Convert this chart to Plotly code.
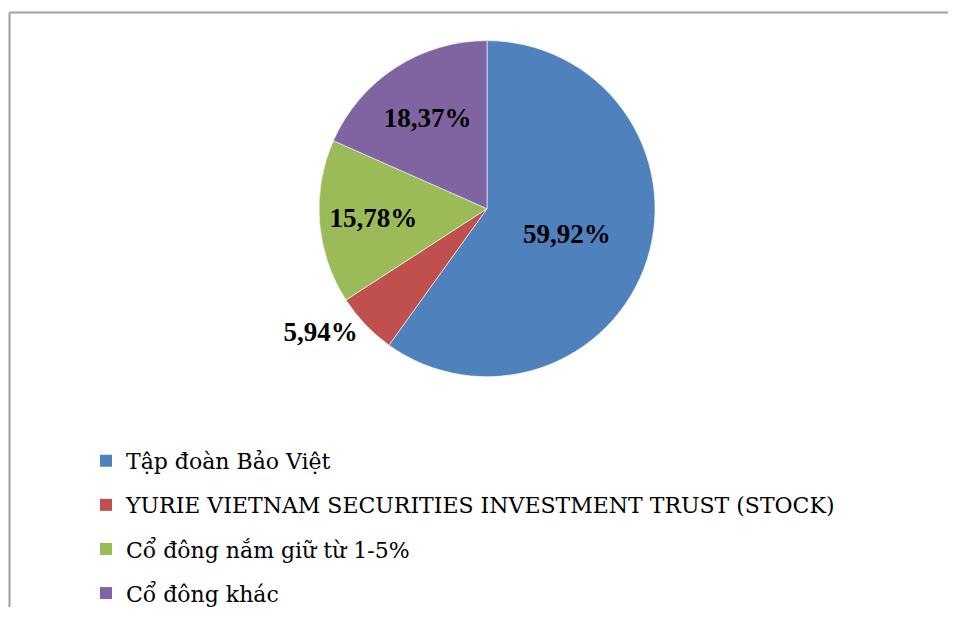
import plotly.graph_objects as go

labels = ["Tập đoàn Bảo Việt",
          "YURIE VIETNAM SECURITIES INVESTMENT TRUST (STOCK)",
          "Cổ đông nắm giữ từ 1-5%",
          "Cổ đông khác"]
values = [59.92, 5.94, 15.78, 18.37]
colors = ["#4F81BD", "#C0504D", "#9BBB59", "#8064A2"]
text_labels = [f"{v:.2f}".replace(".", ",") + "%" for v in values]
text_pos = ["inside", "outside", "inside", "inside"]

# page body adds an 8px offset; figure sized to fit inside the window
OFF = 8
W, H = 940, 606
cx, cy, r = 487 - OFF, 211 - OFF, 170

fig = go.Figure()
fig.add_trace(go.Pie(
    labels=labels, values=values, text=text_labels, textinfo="text",
    textposition=text_pos, sort=False, direction="clockwise", rotation=0,
    marker=dict(colors=colors, line=dict(color="rgba(255,255,255,0.6)", width=1)),
    textfont=dict(family="Liberation Serif", size=27, color="black", weight="bold"),
    insidetextorientation="horizontal",
    domain=dict(x=[(cx - r) / W, (cx + r) / W], y=[1 - (cy + r) / H, 1 - (cy - r) / H]),
    showlegend=False, hoverinfo="label+text",
))
for lab, col in zip(labels, colors):
    fig.add_trace(go.Scatter(x=[None], y=[None], mode="markers", name=lab,
                             legendgroup=lab,
                             marker=dict(symbol="square", size=12, color=col)))

lx, ly = 9.5 - OFF, 12.5 - OFF
fig.update_layout(
    width=W, height=H, margin=dict(l=0, r=0, t=0, b=0),
    paper_bgcolor="white", plot_bgcolor="white",
    xaxis=dict(visible=False), yaxis=dict(visible=False),
    legend=dict(x=(86 - OFF) / W, y=1 - (445 - OFF) / H, xanchor="left", yanchor="top",
                tracegroupgap=12.5, bgcolor="rgba(0,0,0,0)",
                font=dict(family="DejaVu Serif", size=22, color="black")),
    shapes=[
        dict(type="line", xref="paper", yref="paper",
             x0=lx / W, x1=lx / W, y0=0, y1=1 - ly / H,
             line=dict(color="#A0A0A0", width=2)),
        dict(type="line", xref="paper", yref="paper",
             x0=lx / W, x1=1, y0=1 - ly / H, y1=1 - ly / H,
             line=dict(color="#A0A0A0", width=2)),
    ],
)
fig.write_html("out.html")
